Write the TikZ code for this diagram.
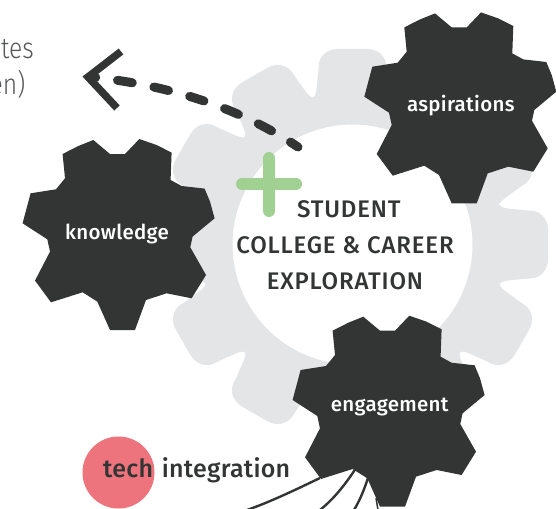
\documentclass[tikz,border=0pt]{standalone}
\usepackage{fontspec}
\setmainfont{Fira Sans}
\newfontfamily\lightfont[FakeStretch=0.85]{Fira Sans Light}
\newfontfamily\medfont[LetterSpace=3.4]{Fira Sans Medium}
\newfontfamily\gearfont[LetterSpace=1.5]{Fira Sans Medium}
\newfontfamily\techfont[LetterSpace=1]{Fira Sans Medium}
\definecolor{gearDark}{HTML}{333535}
\definecolor{gearGray}{HTML}{E4E5E7}
\definecolor{plusGreen}{HTML}{A0D193}
\definecolor{techRed}{HTML}{ED737C}
\definecolor{inkText}{HTML}{333535}
\definecolor{sideText}{HTML}{555759}
\tikzset{
  x=1pt,y=-1pt,
  darktext/.style={inner sep=0pt,anchor=base,text=inkText,font=\medfont\fontsize{24}{24}\selectfont},
  techtext/.style={inner sep=0pt,anchor=base west,text=inkText,font=\techfont\fontsize{25}{25}\selectfont},
  geartext/.style={inner sep=0pt,anchor=base,text=white,font=\gearfont\fontsize{20.5}{21}\selectfont},
  sidetext/.style={inner sep=0pt,anchor=base east,text=sideText,font=\lightfont\fontsize{29}{29}\selectfont},
  wire/.style={draw=gearDark,line width=2.4pt},
  pics/darkgear/.style={code={
    \fill[gearDark] (-8.3,-79.3)--(6.7,-79.3)--(21,-94.3)--(38.3,-88.3)--(53.3,-80.7)--(52.3,-53.3)--(63.3,-47.3)--(86.3,-44.7)--(91.7,-31.7)--(96.3,-15)--(74.3,3.3)--(72,14)--(87.7,41.7)--(73.3,65)--(48.3,60)--(27.7,66.7)--(16.7,96.7)--(-8.3,96.7)--(-21,68.3)--(-35.7,59)--(-67.3,69)--(-83.3,47.3)--(-68.3,18.3)--(-71,6)--(-95.7,-10)--(-87.7,-40)--(-62.3,-44)--(-53.3,-55)--(-55.7,-79.3)--(-40,-87.3)--(-25,-93.3)--cycle;
  }}
}
\begin{document}
\begin{tikzpicture}
\useasboundingbox (0,0) rectangle (556,508);
\clip (0,0) rectangle (556,508);
% big gray gear
\fill[gearGray,even odd rule,shift={(352.5,244.5)}]
  [rounded corners=3pt] (-15:151)
  \foreach \a in {0,30,...,330} {
    -- ({\a-13.5}:156) -- ({\a-11}:178)
    .. controls ({\a-10.2}:191) and ({\a-7.5}:197) .. ({\a-3.5}:196)
    -- ({\a+3.5}:196)
    .. controls ({\a+7.5}:197) and ({\a+10.2}:191) .. ({\a+11}:178)
    -- ({\a+13.5}:156) -- ({\a+15}:151)
  } -- cycle
  [sharp corners] (0,0) circle (120);
% side text
\node[sidetext] (sideA) at (34,59) {tes};
\node[sidetext] (sideB) at (25.5,95) {en)};
% dashed arrow
\coordinate (dashTail) at (298,147);
\coordinate (apex) at (92,77);
\coordinate (armUp) at (121,51.5);
\coordinate (armDown) at (117,108);
\coordinate (tip) at (88,77);
\draw[gearDark,line width=7.5pt,miter limit=10] (armUp) -- (tip) -- (armDown);
\draw[gearDark,line width=9pt,line cap=round,dash pattern=on 15pt off 22pt,dash phase=6pt]
  (dashTail) .. controls (235,105) and (165,85) .. (apex);
% plus
\coordinate (plusL) at (242,184);
\coordinate (plusR) at (296,184);
\coordinate (plusT) at (269,158);
\coordinate (plusB) at (269,211);
\draw[plusGreen,line width=12pt,line cap=round] (plusL) -- (plusR) (plusT) -- (plusB);
% dark gears
\pic at (118.3,233.3) {darkgear};
\pic at (460,106.7) {darkgear};
\pic at (388.3,410) {darkgear};
\node[geartext] (knowledge) at (117,239.3) {knowledge};
\node[geartext] (aspirations) at (460.8,111.7) {aspirations};
\node[geartext] (engagement) at (389.7,411.7) {engagement};
% centre title
\node[darktext] (titleA) at (348.8,217) {STUDENT};
\node[darktext] (titleB) at (345,253) {COLLEGE \& CAREER};
\node[darktext] (titleC) at (345,289) {EXPLORATION};
% tech integration
\fill[techRed] (118.5,472.5) circle (36);
\node[techtext] (tech) at (103,477.7) {tech};
\node[techtext] (integ) at (161.7,477.7) {integration};
% wires
\coordinate (wA) at (320,478);
\coordinate (wAe) at (247,510);
\coordinate (wB) at (356,468);
\coordinate (wBe) at (320,510);
\coordinate (wC) at (368,478);
\coordinate (wCe) at (354,510);
\coordinate (wD) at (376,498);
\coordinate (wDe) at (378,510);
\draw[wire] (wA) .. controls (295,490) and (270,502) .. (wAe);
\draw[wire] (wB) .. controls (347,482) and (335,498) .. (wBe);
\draw[wire] (wC) .. controls (364,490) and (360,500) .. (wCe);
\draw[wire,line width=1.5pt] (wD) -- (wDe);
\end{tikzpicture}
\end{document}
